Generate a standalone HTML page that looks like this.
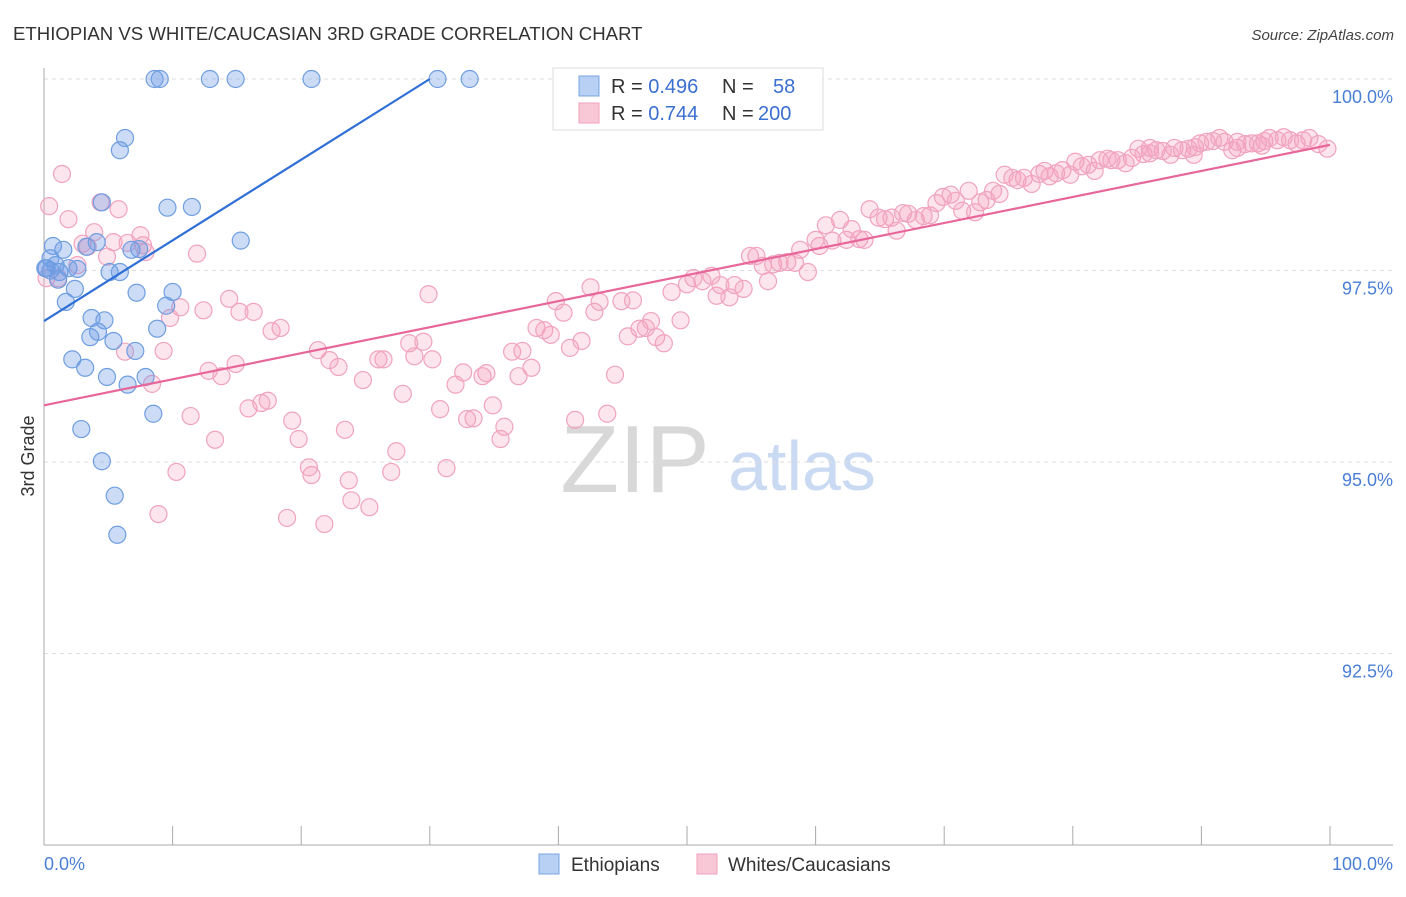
<!DOCTYPE html>
<html><head><meta charset="utf-8">
<style>
body{margin:0;background:#fff;font-family:"Liberation Sans",sans-serif;}
svg text{font-family:"Liberation Sans",sans-serif;}
</style></head>
<body>
<svg id="chart" width="1406" height="892" viewBox="0 0 1406 892" xmlns="http://www.w3.org/2000/svg">
<text x="13" y="40" font-size="18.6" fill="#333">ETHIOPIAN VS WHITE/CAUCASIAN 3RD GRADE CORRELATION CHART</text>
<text x="1394" y="40" font-size="15" fill="#444" text-anchor="end" font-style="italic">Source: ZipAtlas.com</text>
<text x="34" y="456" font-size="18" fill="#333" text-anchor="middle" transform="rotate(-90 34 456)">3rd Grade</text>
<g>
<text x="635" y="492" font-size="96" fill="#d8d8d8" font-family="Liberation Serif, serif" text-anchor="middle">ZIP</text>
<text x="802" y="490" font-size="70" fill="#c9daf2" text-anchor="middle">atlas</text>
</g>
<g id="grid"></g>
<g id="axes"></g>
<g id="pts"></g>
<g id="trend"></g>
<g>
<rect x="553" y="68" width="270" height="62" fill="#fff" stroke="#ddd"/>
<rect x="579" y="76" width="20" height="20" fill="#b7d0f3" stroke="#7aa5e3"/>
<rect x="579" y="103" width="20" height="20" fill="#f9c8d7" stroke="#ef9fbb"/>
<text x="611" y="93" font-size="20" fill="#333">R = <tspan fill="#3b6fd0">0.496</tspan><tspan x="722">N = </tspan><tspan x="773" fill="#3b6fd0">58</tspan></text>
<text x="611" y="120" font-size="20" fill="#333">R = <tspan fill="#3b6fd0">0.744</tspan><tspan x="722">N = </tspan><tspan x="758" fill="#3b6fd0">200</tspan></text>
</g>
<g>
<rect x="539" y="854" width="20" height="20" fill="#b7d0f3" stroke="#7aa5e3"/>
<text x="571" y="871" font-size="19" fill="#333">Ethiopians</text>
<rect x="697" y="854" width="20" height="20" fill="#f9c8d7" stroke="#ef9fbb"/>
<text x="728" y="871" font-size="19" fill="#333">Whites/Caucasians</text>
</g>
</svg>
<script>
const blueX=[8.6,9.0,12.9,14.9,20.8,30.6,33.1,6.3,5.9,4.5,9.6,11.5,15.3,0.7,1.5,4.1,3.3,6.8,7.4,0.5,0.9,0.2,1.2,1.9,2.6,5.1,5.9,1.1,2.4,7.2,10.0,1.7,9.5,3.7,4.7,3.6,4.2,5.4,7.1,8.8,2.2,3.2,4.9,7.9,6.5,8.5,2.9,4.5,5.5,5.7,0.1,0.5];
const blueY=[100,100,100,100,100,100,100,99.23,99.07,98.39,98.32,98.33,97.89,97.82,97.77,97.87,97.81,97.77,97.78,97.66,97.57,97.53,97.48,97.53,97.52,97.48,97.48,97.38,97.26,97.21,97.22,97.09,97.04,96.88,96.85,96.63,96.70,96.58,96.45,96.74,96.34,96.23,96.11,96.11,96.01,95.63,95.43,95.01,94.56,94.05,97.53,97.50];
const pinkX=[0.4,1.4,1.9,0.2,1.1,2.6,3.0,3.9,3.4,4.4,4.9,5.4,5.8,6.5,7.5,7.7,7.9,6.3,8.4,9.3,9.8,10.6,11.9,12.4,14.4,15.2,16.3,17.7,18.4,14.9,12.8,13.8,11.4,13.3,10.3,8.9,15.9,16.9,17.4,19.3,19.8,20.6,20.8,18.9,21.8,21.3,22.2,22.9,23.4,23.7,23.9,25.3,24.8,26.0,26.4,27.0,27.4,27.9,28.4,28.8,29.5,30.2,29.9,30.8,31.3,32.0,32.6,32.9,33.4,34.1,34.4,34.9,35.5,35.8,36.4,36.9,37.2,37.9,38.3,38.9,39.4,39.8,40.4,40.9,41.3,41.8,42.5,42.8,43.2,43.8,44.4,44.9,45.4,45.8,46.3,46.8,47.2,47.6,48.2,48.8,49.5,50.0,50.5,51.2,51.9,52.3,52.6,53.3,53.7,54.4,54.9,55.4,55.9,56.3,56.7,57.2,57.8,58.4,58.8,59.4,60.0,60.3,60.8,61.3,61.9,62.4,62.8,63.4,63.8,64.2,64.9,65.4,65.9,66.3,66.8,67.2,67.8,68.4,68.9,69.4,69.9,70.5,70.9,71.4,71.9,72.4,72.8,73.3,73.8,74.3,74.7,75.3,75.7,76.2,76.8,77.4,77.8,78.2,78.7,79.2,79.8,80.2,80.7,81.2,81.7,82.1,82.7,83.0,83.5,84.1,84.6,85.1,85.5,86.0,86.5,87.0,87.6,87.9,88.5,89.0,89.4,89.9,90.4,90.9,91.4,91.8,92.4,92.8,93.4,93.9,94.4,94.9,95.3,95.9,96.4,96.9,97.4,97.9,98.4,99.1,99.8,92.8,94.7,89.5,86.0];
const pinkY=[98.34,98.76,98.17,97.40,97.40,97.57,97.85,98.00,97.81,98.39,97.68,97.87,98.30,97.86,97.96,97.83,97.74,96.44,96.02,96.45,96.88,97.02,97.72,96.98,97.13,96.96,96.96,96.71,96.75,96.28,96.19,96.12,95.60,95.29,94.87,94.32,95.70,95.77,95.80,95.54,95.30,94.93,94.83,94.27,94.19,96.46,96.33,96.24,95.42,94.76,94.50,94.41,96.07,96.34,96.34,94.87,95.14,95.89,96.55,96.38,96.57,96.34,97.19,95.69,94.92,96.01,96.17,95.56,95.57,96.12,96.16,95.74,95.30,95.46,96.44,96.12,96.45,96.23,96.75,96.72,96.66,97.10,96.95,96.49,95.55,96.58,97.28,96.96,97.09,95.63,96.14,97.10,96.64,97.11,96.74,96.75,96.84,96.63,96.55,97.22,96.85,97.32,97.40,97.36,97.43,97.17,97.31,97.15,97.31,97.26,97.69,97.69,97.56,97.36,97.58,97.60,97.61,97.60,97.77,97.48,97.90,97.82,98.09,97.89,98.16,97.90,98.04,97.91,97.90,98.30,98.19,98.17,98.19,98.02,98.25,98.24,98.16,98.21,98.22,98.38,98.46,98.49,98.41,98.28,98.54,98.26,98.39,98.42,98.54,98.50,98.75,98.71,98.68,98.71,98.63,98.76,98.80,98.73,98.77,98.81,98.75,98.92,98.86,98.88,98.80,98.94,98.96,98.94,98.94,98.90,98.97,99.09,99.02,99.03,99.07,99.06,99.01,99.10,99.07,99.09,99.01,99.16,99.18,99.19,99.23,99.18,99.07,99.10,99.15,99.16,99.16,99.19,99.23,99.20,99.24,99.20,99.16,99.20,99.23,99.15,99.09,99.18,99.13,99.11,99.10];
const blueTrend=[[0,96.84],[30,100]];
const pinkTrend=[[0,95.74],[100,99.14]];
const yTicks=[100,97.5,95,92.5];
const yTickLabels=["100.0%","97.5%","95.0%","92.5%"];
const xTicks=[0,10,20,30,40,50,60,70,80,90,100];

const NS="http://www.w3.org/2000/svg";
const X0=44,X1=1330,YTOP=79,PPU=76.6;
function sx(v){return X0+(X1-X0)*v/100;}
function sy(v){return YTOP+(100-v)*PPU;}
function mk(tag,attrs,parent){const e=document.createElementNS(NS,tag);for(const k in attrs)e.setAttribute(k,attrs[k]);parent.appendChild(e);return e;}
const grid=document.getElementById('grid'),axes=document.getElementById('axes'),pts=document.getElementById('pts'),trend=document.getElementById('trend');
yTicks.forEach((t,i)=>{
  const l=mk('line',{x1:X0,x2:1393,y1:sy(t),y2:sy(t),stroke:'#ddd','stroke-dasharray':'4,4'},grid);
  
  
  const tx=mk('text',{x:1393,y:sy(t)+24,'font-size':18,fill:'#4a7fd6','text-anchor':'end'},grid);
  tx.textContent=yTickLabels[i];
  
  
});
const ya=mk('line',{x1:X0,x2:X0,y1:68,y2:845,stroke:'#aaa'},axes);


const xa=mk('line',{x1:X0,x2:1393,y1:845,y2:845,stroke:'#aaa'},axes);


xTicks.forEach(t=>{
  const l=mk('line',{x1:sx(t),x2:sx(t),y1:826,y2:845,stroke:'#aaa'},axes);
  
  
});
const xl0=mk('text',{x:44,y:870,'font-size':18,fill:'#4a7fd6'},axes);xl0.textContent='0.0%';


const xl1=mk('text',{x:1393,y:870,'font-size':18,fill:'#4a7fd6','text-anchor':'end'},axes);xl1.textContent='100.0%';


pinkX.forEach((v,i)=>{
  const c=mk('circle',{cx:sx(v),cy:sy(pinkY[i]),r:8.5,fill:'rgba(244,160,190,0.28)',stroke:'#f0a3bf','stroke-width':1.2},pts);
  
  
});
blueX.forEach((v,i)=>{
  const c=mk('circle',{cx:sx(v),cy:sy(blueY[i]),r:8.5,fill:'rgba(110,155,230,0.35)',stroke:'#6f9ee0','stroke-width':1.2},pts);
  
  
});
const tb=mk('line',{x1:sx(blueTrend[0][0]),y1:sy(blueTrend[0][1]),x2:sx(blueTrend[1][0]),y2:sy(blueTrend[1][1]),stroke:'#2f6fd6','stroke-width':2.2},trend);


const tp=mk('line',{x1:sx(pinkTrend[0][0]),y1:sy(pinkTrend[0][1]),x2:sx(pinkTrend[1][0]),y2:sy(pinkTrend[1][1]),stroke:'#e8679a','stroke-width':2.2},trend);


</script>
</body></html>
